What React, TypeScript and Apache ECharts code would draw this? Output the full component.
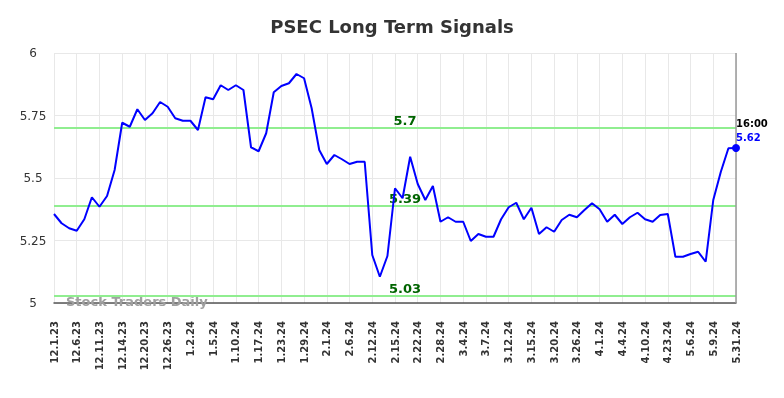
import React, { useEffect, useRef } from 'react';
import * as echarts from 'echarts';

const categories = [
  '12.1.23', '12.4.23', '12.5.23', '12.6.23', '12.7.23', '12.8.23', '12.11.23', '12.12.23', '12.13.23',
  '12.14.23', '12.15.23', '12.18.23', '12.20.23', '12.21.23', '12.22.23', '12.26.23', '12.27.23', '12.28.23',
  '1.2.24', '1.3.24', '1.4.24', '1.5.24', '1.8.24', '1.9.24', '1.10.24', '1.11.24', '1.12.24',
  '1.17.24', '1.18.24', '1.19.24', '1.23.24', '1.24.24', '1.25.24', '1.29.24', '1.30.24', '1.31.24',
  '2.1.24', '2.2.24', '2.5.24', '2.6.24', '2.7.24', '2.8.24', '2.12.24', '2.13.24', '2.14.24',
  '2.15.24', '2.16.24', '2.20.24', '2.22.24', '2.23.24', '2.26.24', '2.28.24', '2.29.24', '3.1.24',
  '3.4.24', '3.5.24', '3.6.24', '3.7.24', '3.8.24', '3.11.24', '3.12.24', '3.13.24', '3.14.24',
  '3.15.24', '3.18.24', '3.19.24', '3.20.24', '3.21.24', '3.22.24', '3.26.24', '3.27.24', '3.28.24',
  '4.1.24', '4.2.24', '4.3.24', '4.4.24', '4.5.24', '4.8.24', '4.10.24', '4.11.24', '4.12.24',
  '4.23.24', '4.24.24', '4.25.24', '5.6.24', '5.7.24', '5.8.24', '5.9.24', '5.10.24', '5.13.24',
  '5.31.24',
];

const prices = [
  5.356, 5.319, 5.299, 5.289, 5.335, 5.423, 5.385, 5.428, 5.532,
  5.721, 5.705, 5.775, 5.732, 5.759, 5.804, 5.785, 5.739, 5.729,
  5.729, 5.692, 5.823, 5.815, 5.871, 5.852, 5.871, 5.852, 5.623,
  5.607, 5.679, 5.843, 5.868, 5.879, 5.916, 5.899, 5.779, 5.612,
  5.556, 5.592, 5.575, 5.556, 5.565, 5.565, 5.192, 5.105, 5.188,
  5.459, 5.419, 5.585, 5.476, 5.412, 5.468, 5.325, 5.343, 5.325,
  5.325, 5.248, 5.276, 5.265, 5.265, 5.335, 5.383, 5.401, 5.335,
  5.381, 5.276, 5.303, 5.285, 5.332, 5.353, 5.343, 5.372, 5.399,
  5.375, 5.325, 5.353, 5.316, 5.343, 5.361, 5.335, 5.325, 5.352,
  5.356, 5.185, 5.185, 5.196, 5.205, 5.165, 5.412, 5.525, 5.619,
  5.62,
];

const signalLevels = [5.7, 5.39, 5.03];
const yMin = 5;
const yMax = 6;
const yStep = 0.25;
const lastTime = '16:00';
const lastPriceLabel = '5.62';
const titleText = 'PSEC Long Term Signals';
const watermark = 'Stock Traders Daily';

const FONT = 'DejaVu Sans';

export default function App() {
  const ref = useRef<HTMLDivElement>(null);

  useEffect(() => {
    const chart = echarts.init(ref.current!, null, { renderer: 'svg' });
    const lastIdx = prices.length - 1;

    chart.setOption({
      animation: false,
      title: {
        text: titleText,
        left: 'center',
        top: 12,
        textStyle: { fontFamily: FONT, fontSize: 18, fontWeight: 'bold', color: '#333' },
      },
      grid: { left: 54, right: 48, top: 53, bottom: 95, containLabel: false },
      xAxis: {
        type: 'category',
        data: categories,
        boundaryGap: false,
        axisLine: { show: true, lineStyle: { color: '#555', width: 1.5 } },
        axisTick: { show: false },
        axisLabel: {
          interval: 2,
          rotate: 90,
          margin: 18,
          fontFamily: FONT,
          fontSize: 10,
          fontWeight: 'bold',
          color: '#333',
        },
        splitLine: { show: true, interval: 2, lineStyle: { color: '#e8e8e8', width: 1 } },
      },
      yAxis: {
        type: 'value',
        min: yMin,
        max: yMax,
        interval: yStep,
        axisLine: { show: false },
        axisTick: { show: false },
        axisLabel: {
          fontFamily: FONT,
          fontSize: 12,
          color: '#333',
          align: 'center',
          margin: 21,
        },
        splitLine: { show: true, lineStyle: { color: '#e8e8e8', width: 1 } },
      },
      graphic: [
        {
          type: 'text',
          left: 66,
          top: 295,
          z: 1,
          style: {
            text: watermark,
            fontFamily: FONT,
            fontSize: 13,
            fontWeight: 'bold',
            fill: '#a0a0a0',
          },
        },
      ],
      series: [
        {
          type: 'line',
          data: prices,
          showSymbol: false,
          symbol: 'none',
          lineStyle: { color: '#0000ff', width: 2 },
          z: 3,
          markLine: {
            silent: true,
            symbol: ['none', 'none'],
            z: 2,
            data: [
              ...signalLevels.map((v) => ({
                yAxis: v,
                lineStyle: { color: '#90ee90', width: 2, type: 'solid' },
                label: {
                  show: true,
                  position: 'insideMiddleTop',
                  distance: 1,
                  padding: [0, 0, 0, 20],
                  formatter: String(v),
                  fontFamily: FONT,
                  fontSize: 13,
                  fontWeight: 'bold',
                  color: '#006400',
                },
              })),
              {
                xAxis: categories[lastIdx],
                lineStyle: { color: '#999', width: 1.5, type: 'solid' },
                label: { show: false },
              },
            ],
          },
          markPoint: {
            silent: true,
            data: [
              {
                coord: [lastIdx, prices[lastIdx]],
                symbol: 'circle',
                symbolSize: 8,
                itemStyle: { color: '#0000ff' },
                label: {
                  show: true,
                  position: [4, -28],
                  align: 'left',
                  verticalAlign: 'top',
                  formatter: '{t|' + lastTime + '}\n{v|' + lastPriceLabel + '}',
                  rich: {
                    t: { fontFamily: FONT, fontSize: 10, fontWeight: 'bold', color: '#000', lineHeight: 14 },
                    v: { fontFamily: FONT, fontSize: 10, fontWeight: 'bold', color: '#0000ff', lineHeight: 14 },
                  },
                },
              },
            ],
          },
        },
      ],
    });

    return () => chart.dispose();
  }, []);

  return (
    <div
      ref={ref}
      style={{ position: 'fixed', left: 0, top: 0, width: 784, height: 398 }}
    />
  );
}
